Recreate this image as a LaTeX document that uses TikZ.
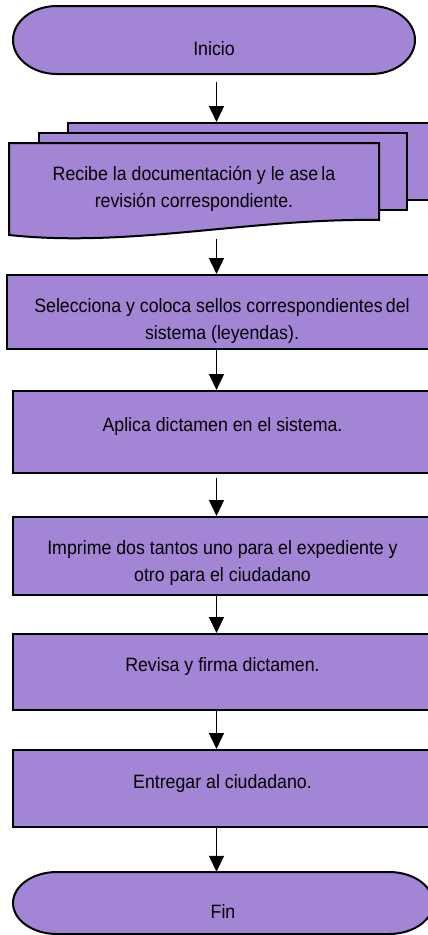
\documentclass[tikz,border=0pt]{standalone}
\usepackage{fontspec}
\setmainfont{Liberation Sans}[FakeStretch=0.92]
\usetikzlibrary{arrows.meta,calc}
\definecolor{boxfill}{RGB}{162,133,213}
\begin{document}
\begin{tikzpicture}[x=1pt,y=-1pt,
  shapefill/.style={fill=boxfill,draw=black,line width=2pt},
  txt/.style={font=\fontsize{19.3}{26.5}\selectfont, align=center, inner sep=0pt},
  proc/.style={shapefill, rectangle, inner sep=0pt},
  sheet/.style={shapefill, rectangle, inner sep=0pt},
  flow/.style={line width=1.4pt, -{Triangle[width=15pt,length=16pt]}}
]
\useasboundingbox (0,0) rectangle (428,935);
\clip (0,0) rectangle (428,935);
\coordinate (ax) at (216.5,0);

% Inicio terminator
\path[shapefill] (57,6) -- (371,6) arc[start angle=90,end angle=-90,x radius=44pt,y radius=34pt]
  -- (57,74) arc[start angle=270,end angle=90,x radius=44pt,y radius=34pt] -- cycle;
\node[txt, minimum width=402pt, minimum height=68pt, text height=30pt, text depth=0pt] (inicio) at (214,40) {Inicio};

% Multi-document
\node[sheet, minimum width=372pt, minimum height=77pt] (back) at (254,161.5) {};
\node[sheet, minimum width=368pt, minimum height=77pt] (mid) at (223,171.5) {};
\path[shapefill] (9,143) -- (379,143) -- (379,220) .. controls (250,218) and (130,248) .. (9,235) -- cycle;
\node[txt, minimum width=370pt, minimum height=100pt] (front) at (194,189)
  {Recibe la documentación y le ase\,la\\revisión correspondiente.};

% Process boxes
\node[proc, minimum width=430pt, minimum height=74pt,
  label={[txt, yshift=-9pt]center:{Selecciona y coloca sellos correspondientes\,del\\sistema (leyendas).}}] (b2) at (222,312) {};
\node[proc, minimum width=419pt, minimum height=82pt,
  label={[txt, yshift=5pt]center:{Aplica dictamen en el sistema.}}] (b3) at (222.5,432) {};
\node[proc, minimum width=419pt, minimum height=78pt,
  label={[txt, yshift=-7pt]center:{Imprime dos tantos uno para el expediente y\\otro para el ciudadano}}] (b4) at (222.5,556) {};
\node[proc, minimum width=419pt, minimum height=76pt,
  label={[txt, yshift=5pt]center:{Revisa y firma dictamen.}}] (b5) at (222.5,672) {};
\node[proc, minimum width=419pt, minimum height=77pt,
  label={[txt, yshift=5pt]center:{Entregar al ciudadano.}}] (b6) at (222.5,788.5) {};

% Fin terminator
\path[shapefill] (57,872) -- (389,872) arc[start angle=90,end angle=-90,x radius=44pt,y radius=31pt]
  -- (57,934) arc[start angle=270,end angle=90,x radius=44pt,y radius=31pt] -- cycle;
\node[txt, minimum width=420pt, minimum height=62pt, text height=30pt, text depth=0pt] (fin) at (223,903) {Fin};

% Connectors
\draw[flow, shorten <=8pt] (inicio.south -| ax) -- (back.north -| ax);
\draw[flow] (front.south -| ax) -- (b2.north -| ax);
\draw[flow] (b2.south -| ax) -- (b3.north -| ax);
\draw[flow, shorten <=4pt] (b3.south -| ax) -- (b4.north -| ax);
\draw[flow] (b4.south -| ax) -- (b5.north -| ax);
\draw[flow] (b5.south -| ax) -- (b6.north -| ax);
\draw[flow] (b6.south -| ax) -- (fin.north -| ax);
\end{tikzpicture}
\end{document}
